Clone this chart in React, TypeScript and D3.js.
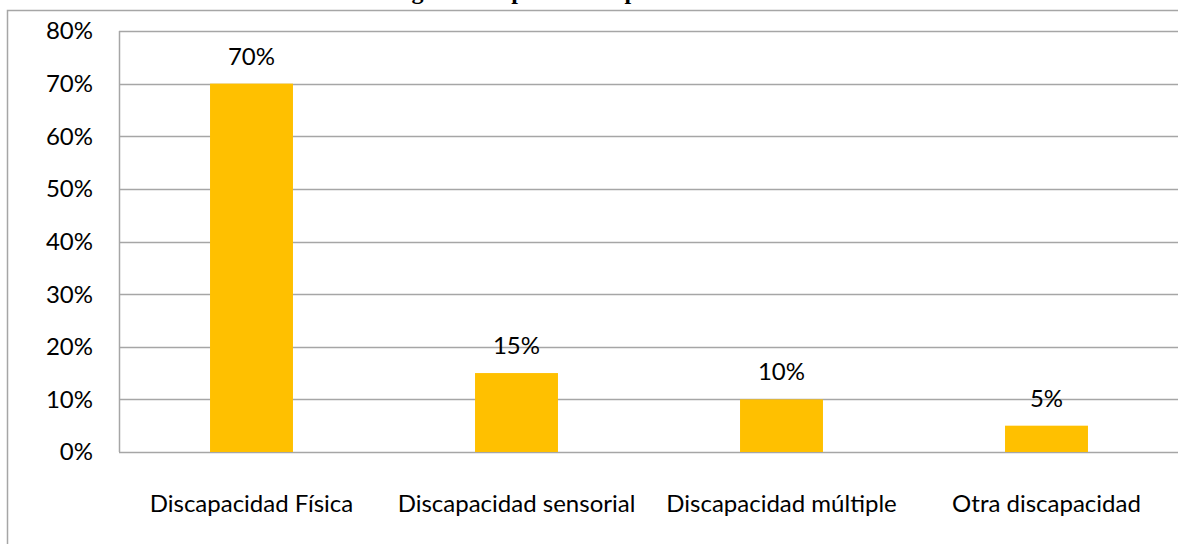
import React from "react";
import * as d3 from "d3";

// Chart data
const categories = [
  "Discapacidad Física",
  "Discapacidad sensorial",
  "Discapacidad múltiple",
  "Otra discapacidad",
];
const values = [0.7, 0.15, 0.1, 0.05];
const yTicks = [0, 0.1, 0.2, 0.3, 0.4, 0.5, 0.6, 0.7, 0.8];
const title = "Figura 2. Tipo de discapacidad";

const W = 1178;
const H = 544;
const plot = { left: 119, right: 1179, top: 31, bottom: 452 };
const font = "Lato, 'Open Sans', sans-serif";
const gridColor = "#a6a6a6";
const barColor = "#FFC000";

export default function App() {
  const x = d3
    .scaleBand<string>()
    .domain(categories)
    .range([plot.left, plot.right])
    .paddingInner(0.687)
    .paddingOuter(0.3435);
  const y = d3.scaleLinear().domain([0, 0.8]).range([plot.bottom, plot.top]);
  const pct = d3.format(".0%");

  return (
    <svg
      width={W}
      height={H}
      style={{ position: "fixed", left: 0, top: 0, background: "#fff" }}
    >
      {/* clipped heading above the frame */}
      <text
        x={548}
        y={-1}
        textAnchor="middle"
        fontFamily="'Liberation Serif', serif"
        fontWeight="bold"
        fontSize={24}
        fill="#000"
      >
        {title}
      </text>

      {/* chart frame */}
      <rect
        x={7.5}
        y={10.5}
        width={W + 10}
        height={H + 10}
        fill="none"
        stroke={gridColor}
        strokeWidth={1.5}
      />

      {/* gridlines */}
      {yTicks.map((t) => (
        <line
          key={t}
          x1={plot.left}
          x2={W}
          y1={Math.round(y(t)) + 0.5}
          y2={Math.round(y(t)) + 0.5}
          stroke={gridColor}
          strokeWidth={1.5}
        />
      ))}
      {/* value axis line */}
      <line
        x1={plot.left + 0.5}
        x2={plot.left + 0.5}
        y1={plot.top}
        y2={plot.bottom}
        stroke={gridColor}
        strokeWidth={1.5}
      />

      {/* tick labels */}
      {yTicks.map((t) => (
        <text
          key={"l" + t}
          x={93}
          y={y(t)}
          dy="0.35em"
          textAnchor="end"
          fontFamily={font}
          fontSize={24}
          fill="#000"
        >
          {pct(t)}
        </text>
      ))}

      {/* bars */}
      {categories.map((c, i) => (
        <rect
          key={c}
          x={x(c)}
          y={y(values[i])}
          width={x.bandwidth()}
          height={y(0) - y(values[i])}
          fill={barColor}
        />
      ))}

      {/* value labels */}
      {categories.map((c, i) => (
        <text
          key={"v" + c}
          x={(x(c) as number) + x.bandwidth() / 2}
          y={y(values[i]) - 19}
          textAnchor="middle"
          fontFamily={font}
          fontSize={24}
          fill="#000"
        >
          {pct(values[i])}
        </text>
      ))}

      {/* category labels */}
      {categories.map((c) => (
        <text
          key={"c" + c}
          x={(x(c) as number) + x.bandwidth() / 2}
          y={512}
          textAnchor="middle"
          fontFamily={font}
          fontSize={24}
          fill="#000"
        >
          {c}
        </text>
      ))}
    </svg>
  );
}
